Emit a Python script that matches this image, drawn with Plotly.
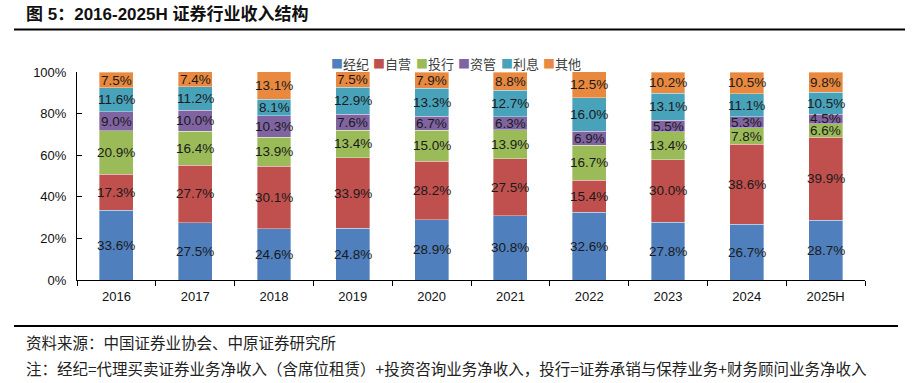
import plotly.graph_objects as go

years = ["2016", "2017", "2018", "2019", "2020", "2021", "2022", "2023", "2024", "2025H"]
series_names = ["经纪", "自营", "投行", "资管", "利息", "其他"]
brokerage = [33.6, 27.5, 24.6, 24.8, 28.9, 30.8, 32.6, 27.8, 26.7, 28.7]
proprietary = [17.3, 27.7, 30.1, 33.9, 28.2, 27.5, 15.4, 30.0, 38.6, 39.9]
ib = [20.9, 16.4, 13.9, 13.4, 15.0, 13.9, 16.7, 13.4, 7.8, 6.6]
am = [9.0, 10.0, 10.3, 7.6, 6.7, 6.3, 6.9, 5.5, 5.3, 4.5]
interest = [11.6, 11.2, 8.1, 12.9, 13.3, 12.7, 16.0, 13.1, 11.1, 10.5]
other = [7.5, 7.4, 13.1, 7.5, 7.9, 8.8, 12.5, 10.2, 10.5, 9.8]
series_values = [brokerage, proprietary, ib, am, interest, other]
colors = ["#4F7FBC", "#C0504D", "#9BBB59", "#8064A2", "#48A2BA", "#E8893F"]
y_ticks = [0, 20, 40, 60, 80, 100]
y_tick_labels = ["0%", "20%", "40%", "60%", "80%", "100%"]

title_text = "<b>图 5：2016-2025H 证券行业收入结构</b>"
source_text = "资料来源：中国证券业协会、中原证券研究所"
note_text = "注：经纪=代理买卖证券业务净收入（含席位租赁）+投资咨询业务净收入，投行=证券承销与保荐业务+财务顾问业务净收入"

LATIN = "Liberation Sans, Arial, Noto Sans CJK SC"
CJK = "Noto Sans CJK SC"

W, H = 919, 383
ml, mr, mt, mb = 77, 54, 72, 103
pw, ph = W - ml - mr, H - mt - mb


def px_x(x):
    return (x - ml) / pw


def px_y(y):
    return (H - mb - y) / ph


fig = go.Figure()
annotations = []
base = [0.0] * len(years)
for name, vals, col in zip(series_names, series_values, colors):
    fig.add_trace(go.Bar(
        x=years, y=vals, name=name,
        marker=dict(color=col, line=dict(color="rgba(255,255,255,0.6)", width=0.6)),
        showlegend=False, hoverinfo="x+y+name",
    ))
    # value labels centred in each segment (x = category index on the category axis)
    for j, v in enumerate(vals):
        annotations.append(dict(
            x=j, y=base[j] + v / 2, xref="x", yref="y", showarrow=False,
            text=f"{v:.1f}%", xanchor="center", yanchor="middle",
            font=dict(family=LATIN, size=13.5, color="#1a1a1a"),
        ))
        base[j] += v

# compact legend built from series names and colours
for i, (name, col) in enumerate(zip(series_names, colors)):
    annotations.append(dict(
        xref="paper", yref="paper", x=px_x(329 + i * 42.4), y=px_y(64),
        xanchor="left", yanchor="middle", showarrow=False,
        text=f"<span style='color:{col};font-size:12px'>■</span>{name}",
        font=dict(family=CJK, size=13, color="#404040"),
    ))

annotations.append(dict(
    xref="paper", yref="paper", x=px_x(24), y=px_y(14), xanchor="left", yanchor="middle",
    showarrow=False, text=title_text, font=dict(family=LATIN, size=17, color="#111111")))
annotations.append(dict(
    xref="paper", yref="paper", x=px_x(24), y=px_y(342), xanchor="left", yanchor="middle",
    showarrow=False, text=source_text, font=dict(family=CJK, size=15.5, color="#222222")))
annotations.append(dict(
    xref="paper", yref="paper", x=px_x(24), y=px_y(368), xanchor="left", yanchor="middle",
    showarrow=False, text=note_text, font=dict(family=CJK, size=15.5, color="#222222")))

shapes = [
    dict(type="line", xref="paper", yref="paper", x0=px_x(14), x1=px_x(905),
         y0=px_y(29.5), y1=px_y(29.5), line=dict(color="#000000", width=2)),
    dict(type="line", xref="paper", yref="paper", x0=px_x(14), x1=px_x(898),
         y0=px_y(326), y1=px_y(326), line=dict(color="#000000", width=2)),
]

fig.update_layout(
    width=W, height=H,
    margin=dict(l=ml, r=mr, t=mt, b=mb, pad=0),
    barmode="stack", bargap=0.57,
    plot_bgcolor="white", paper_bgcolor="white",
    font=dict(family=LATIN, size=13, color="#111111"),
    annotations=annotations, shapes=shapes,
    showlegend=False,
)
fig.update_xaxes(
    type="category", categoryorder="array", categoryarray=years,
    range=[-0.5, len(years) - 0.5],
    showline=True, linecolor="#000000", linewidth=1,
    ticks="outside", tickson="boundaries", ticklen=5, tickcolor="#000000",
    ticklabelstandoff=4,
    tickfont=dict(family=LATIN, size=13, color="#111111"), showgrid=False,
)
fig.update_yaxes(
    range=[0, 100], tickmode="array", tickvals=y_ticks, ticktext=y_tick_labels,
    showline=True, linecolor="#000000", linewidth=1, ticks="inside", ticklen=5,
    tickcolor="#000000", ticklabelstandoff=7,
    tickfont=dict(family=LATIN, size=13, color="#111111"),
    showgrid=False, zeroline=False,
)

fig.write_html(
    "out.html",
    config={"displayModeBar": False},
    post_script="document.body.style.margin='0';document.body.style.overflow='hidden';",
)
